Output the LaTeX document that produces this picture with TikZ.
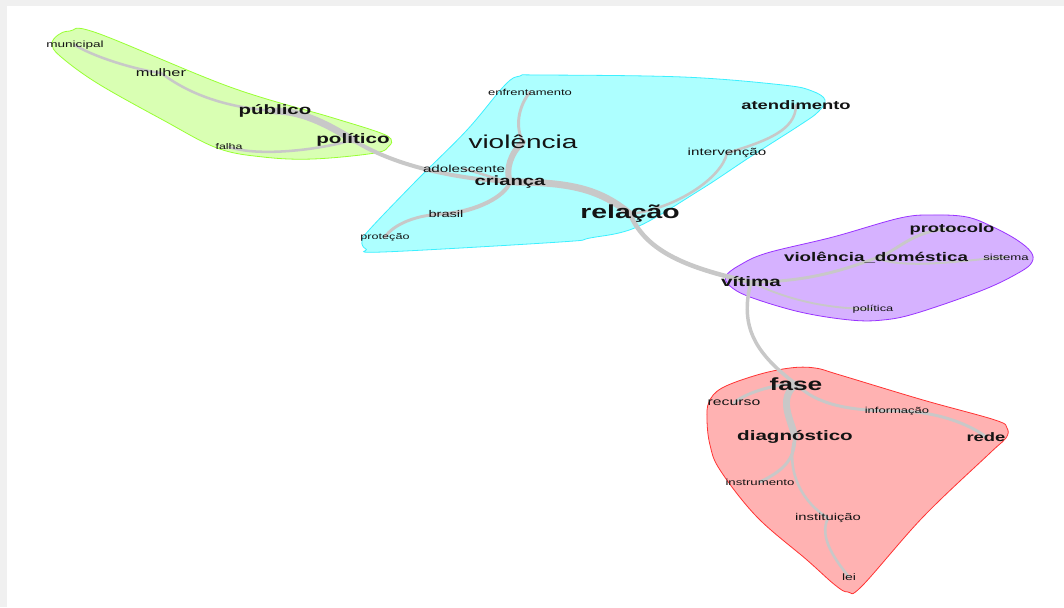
\documentclass[tikz,border=0pt]{standalone}
\usepackage{fontspec}
\usepackage{tikz}
\newfontfamily\palavra[FakeStretch=1.5]{Liberation Sans}
\definecolor{verdeF}{RGB}{217,255,179}
\definecolor{verdeB}{RGB}{153,255,51}
\definecolor{cianoF}{RGB}{173,255,255}
\definecolor{cianoB}{RGB}{60,240,255}
\definecolor{roxoF}{RGB}{214,178,255}
\definecolor{roxoB}{RGB}{153,51,255}
\definecolor{vermF}{RGB}{255,178,178}
\definecolor{vermB}{RGB}{255,51,51}
\definecolor{ligaC}{RGB}{200,200,200}
\definecolor{fundoC}{RGB}{240,240,240}
\pgfdeclarelayer{grupo}
\pgfdeclarelayer{ligacao}
\pgfsetlayers{grupo,ligacao,main}
\tikzset{
  hull/.style={draw=#1B, fill=#1F, line width=0.6pt},
  wrd/.style={font=\palavra\fontsize{#1}{#1}\selectfont, inner sep=0pt, text=black!92},
  wrdb/.style={font=\palavra\bfseries\fontsize{#1}{#1}\selectfont, inner sep=0pt, text=black!92},
  lnk/.style={draw=ligaC, line width=#1, line cap=round},
}

\begin{document}
\begin{tikzpicture}[x=0.75pt,y=-0.75pt]
  \useasboundingbox (0,0) rectangle (1064,607);

  % palavras
  \node[wrd=6.8pt]   (municipal) at (75,45)   {municipal};
  \node[wrd=8.2pt]   (mulher)    at (161,73)  {mulher};
  \node[wrdb=10.2pt] (publico)   at (275,111) {público};
  \node[wrdb=10.3pt] (politico)  at (353,140) {político};
  \node[wrd=6.2pt]   (falha)     at (229,147) {falha};

  \node[wrd=6.5pt]   (enfrent)   at (530,92)  {enfrentamento};
  \node[wrd=14pt]    (violencia) at (523,142) {violência};
  \node[wrdb=9.2pt]  (atend)     at (796,105) {atendimento};
  \node[wrd=7.6pt]   (interv)    at (727,153) {intervenção};
  \node[wrd=7.6pt]   (adolesc)   at (464,169) {adolescente};
  \node[wrdb=10.1pt] (crianca)   at (510,182) {criança};
  \node[wrd=7.3pt]   (brasil)    at (446,214) {brasil};
  \node[wrdb=14.2pt] (relacao)   at (630,214) {relação};
  \node[wrd=6.3pt]   (protecao)  at (385,237) {proteção};

  \node[wrdb=9.2pt]  (protocolo) at (952,229) {protocolo};
  \node[wrdb=9.4pt]  (viodom)    at (876,258) {violência\_doméstica};
  \node[wrd=6.6pt]   (sistema)   at (1006,257) {sistema};
  \node[wrdb=10.3pt] (vitima)    at (751,282) {vítima};
  \node[wrd=6.4pt]   (politica)  at (873,309) {política};

  \node[wrdb=13.2pt] (fase)      at (796,384) {fase};
  \node[wrd=7.9pt]   (recurso)   at (734,403) {recurso};
  \node[wrd=6.5pt]   (informacao) at (897,411) {informação};
  \node[wrdb=10.3pt] (diagn)     at (795,437) {diagnóstico};
  \node[wrdb=9.2pt]  (rede)      at (986,437) {rede};
  \node[wrd=6.6pt]   (instrum)   at (760,482) {instrumento};
  \node[wrd=7.4pt]   (instit)    at (828,518) {instituição};
  \node[wrd=7pt]     (lei)       at (849,577) {lei};

  % grupos
  \begin{pgfonlayer}{grupo}
    \fill[fundoC] (0,0) rectangle (1064,607);
    \fill[white] (7,6) rectangle (1064,607);
    \draw[hull=verde] plot[smooth cycle, tension=0.6] coordinates {
      (52,44) (58,35) (70,31) (97,33) (230,87) (330,117) (378,132) (391,139) (389,146) (375,153)
      (313,159) (263,157) (217,148) (163,120) (97,83) (60,56)};
    \draw[hull=ciano] plot[smooth cycle, tension=0.6] coordinates {
      (505,85) (520,76) (540,75) (683,77) (783,85) (812,91) (825,100) (818,112) (800,125) (750,157)
      (700,190) (637,227) (590,238) (560,242) (383,252) (366,249) (362,241) (370,229) (417,180) (467,130)};
    \draw[hull=roxo] plot[smooth cycle, tension=0.6] coordinates {
      (726,276) (740,265) (767,253) (833,237) (900,218) (933,215) (967,217) (993,227) (1017,240)
      (1031,252) (1032,262) (1020,272) (983,290) (917,313) (883,320) (850,320) (800,312) (750,297) (730,286)};
    \draw[hull=verm] plot[smooth cycle, tension=0.6] coordinates {
      (790,368) (757,375) (722,388) (709,402) (707,420) (710,445) (720,470) (757,517) (807,560)
      (835,585) (848,592) (862,586) (923,517) (990,453) (1006,438) (1007,428) (995,420) (923,400)
      (840,375) (815,368)};
  \end{pgfonlayer}

  % ligacoes
  \begin{pgfonlayer}{ligacao}
    \draw[lnk=1.9pt] (municipal.center) .. controls +(15,10) and +(-30,-4) .. (mulher.center);
    \draw[lnk=1.9pt] (mulher.center) .. controls +(20,15) and +(-60,-4) .. (publico.center);
    \draw[lnk=5.2pt] (publico.center) .. controls +(30,0) and +(-20,-12) .. (politico.center);
    \draw[lnk=1.9pt] (falha.center) .. controls +(30,10) and +(-35,10) .. (politico.center);
    \draw[lnk=3pt] (politico.center) .. controls +(40,25) and +(-60,-4) .. (crianca.center);
    \draw[lnk=4.5pt] (violencia.center) .. controls +(-12,10) and +(-5,-12) .. (crianca.center);
    \draw[lnk=2.2pt] (enfrent.center) .. controls +(-12,15) and +(-8,-15) .. (violencia.center);
    \draw[lnk=3pt] (crianca.center) .. controls +(-5,15) and +(30,-3) .. (brasil.center);
    \draw[lnk=2.2pt] (brasil.center) .. controls +(-30,0) and +(8,-12) .. (protecao.center);
    \draw[lnk=1.9pt] (adolesc.center) .. controls +(10,2) and +(-15,-3) .. (crianca.center);
    \draw[lnk=5.2pt] (crianca.center) .. controls +(60,0) and +(-30,-25) .. (relacao.center);
    \draw[lnk=1.9pt] (relacao.center) .. controls +(45,-5) and +(-5,25) .. (interv.center);
    \draw[lnk=1.9pt] (interv.center) .. controls +(40,-12) and +(0,25) .. (atend.center);
    \draw[lnk=3.4pt] (relacao.center) .. controls +(15,35) and +(-70,-15) .. (vitima.center);
    \draw[lnk=2.2pt] (vitima.center) .. controls +(50,0) and +(-40,15) .. (viodom.center);
    \draw[lnk=2.2pt] (viodom.center) .. controls +(20,-5) and +(-40,0) .. (protocolo.center);
    \draw[lnk=1.5pt] (viodom.center) .. controls +(30,12) and +(-40,3) .. (sistema.center);
    \draw[lnk=1.4pt] (vitima.center) .. controls +(40,20) and +(-40,0) .. (politica.center);
    \draw[lnk=2.6pt] (vitima.center) .. controls +(-12,45) and +(-40,-30) .. (fase.center);
    \draw[lnk=2.2pt] (fase.center) .. controls +(-25,0) and +(8,-8) .. (recurso.center);
    \draw[lnk=5.2pt] (fase.center) .. controls +(-18,15) and +(-5,-20) .. (diagn.center);
    \draw[lnk=2.2pt] (fase.center) .. controls +(20,20) and +(-50,0) .. (informacao.center);
    \draw[lnk=2.2pt] (informacao.center) .. controls +(40,0) and +(-15,-12) .. (rede.center);
    \draw[lnk=2.2pt] (diagn.center) .. controls +(0,25) and +(20,-10) .. (instrum.center);
    \draw[lnk=1.9pt] (diagn.center) .. controls +(-10,35) and +(-25,-15) .. (instit.center);
    \draw[lnk=1.9pt] (instit.center) .. controls +(-10,20) and +(-12,-15) .. (lei.center);
  \end{pgfonlayer}
\end{tikzpicture}
\end{document}
